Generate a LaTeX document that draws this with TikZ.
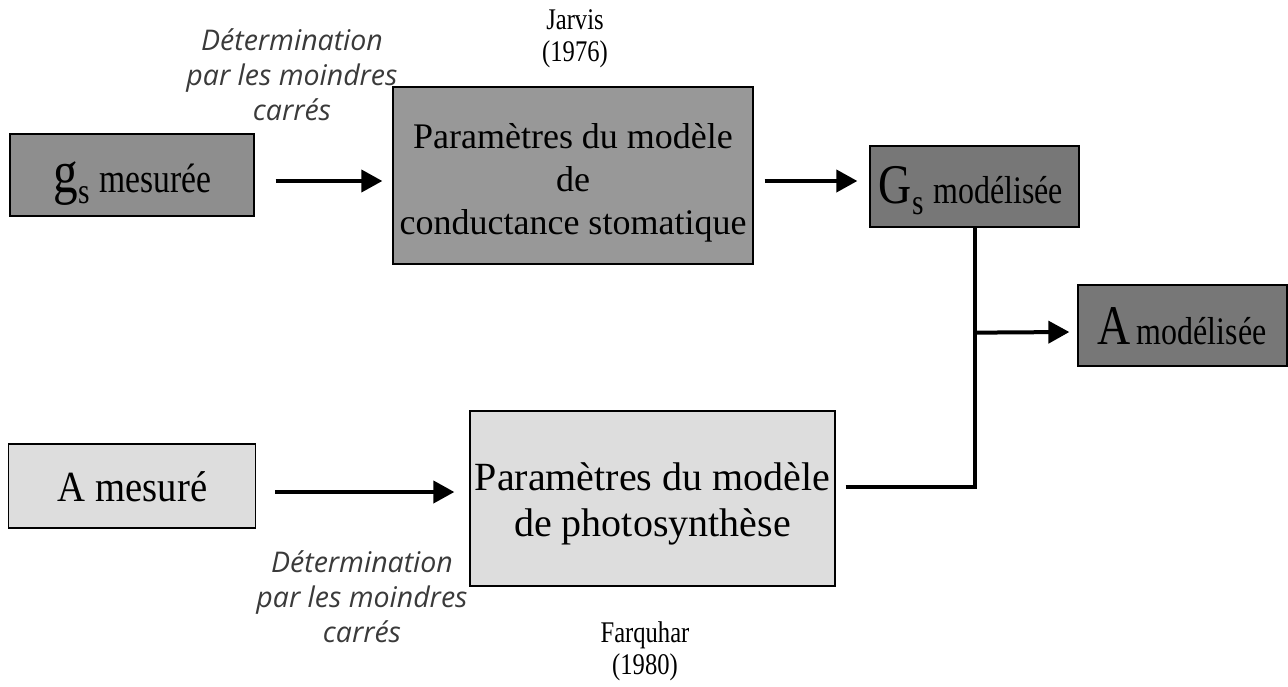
\documentclass[tikz,border=0pt]{standalone}
\usepackage{fontspec}
\setmainfont{Liberation Serif}
\newfontfamily\condfont{Liberation Serif}[FakeStretch=0.82]
\newfontfamily\semicondfont{Liberation Serif}[FakeStretch=0.9]
\newfontfamily\notefont{Open Sans}
\usetikzlibrary{arrows.meta}
\definecolor{midgrey}{HTML}{8E8E8E}
\definecolor{paramgrey}{HTML}{989898}
\definecolor{darkgrey}{HTML}{777777}
\definecolor{lightgrey}{HTML}{DDDDDD}
\definecolor{notegrey}{HTML}{3A3A3A}
\newcommand{\fsz}[2]{\fontsize{#1}{#2}\selectfont}
\tikzset{
  box/.style={draw=black, line width=1.3pt, inner sep=0pt},
  txt/.style={inner sep=0pt, align=center},
  baseline txt/.style={inner sep=0pt, anchor=base},
  conn/.style={line width=4pt, draw=black},
  arr/.style={conn, -{Triangle[length=21pt,width=22pt]}},
  note/.style={align=center, text=notegrey, font=\notefont\itshape\fsz{28.5}{35}},
  refnote/.style={align=center, font=\condfont\fsz{30}{32}}
}
\begin{document}
\begin{tikzpicture}[x=1pt,y=-1pt]
\useasboundingbox (0,0) rectangle (1288,686);

% boxes of the upper chain (stomatal conductance)
\node[box, fill=midgrey, minimum width=244pt, minimum height=82pt] (gsmes) at (132,175) {};
\node[baseline txt, font=\condfont] (gsmes-t) at (132.5,192)
  {{\fsz{60}{60}g}\raisebox{-11pt}{\fsz{36}{36}s}\hspace{10pt}{\fsz{41}{41}mesurée}};
\node[box, fill=paramgrey, minimum width=360pt, minimum height=177pt] (tpar) at (573,175.5) {};
\node[txt, font=\fsz{36}{43}] (tpar-t) at ([yshift=-7pt]tpar.center)
  {Paramètres du modèle\\de\\conductance stomatique};
\node[box, fill=darkgrey, minimum width=209pt, minimum height=81pt] (gsmod) at (974.5,186.5) {};
\node[baseline txt, font=\condfont] (gsmod-t) at (971,203)
  {{\fsz{56}{56}G}\raisebox{-11pt}{\fsz{36}{36}s}\hspace{10pt}{\fsz{39}{39}modélisée}};
\node[box, fill=darkgrey, minimum width=209pt, minimum height=81pt] (amod) at (1182.5,325.5) {};
\node[baseline txt, font=\condfont] (amod-t) at (1182,344)
  {{\fsz{56}{56}A}\hspace{6pt}{\fsz{39}{39}modélisée}};

% boxes of the lower chain (photosynthesis)
\node[box, fill=lightgrey, minimum width=247pt, minimum height=84pt] (ames) at (132,486) {};
\node[baseline txt, font=\semicondfont\fsz{43}{43}] (ames-t) at (132.5,501) {A mesuré};
\node[box, fill=lightgrey, minimum width=365pt, minimum height=175pt] (bpar) at (652.5,498.5) {};
\node[txt, font=\fsz{40}{46}] (bpar-t) at ([yshift=-5pt]bpar.center)
  {Paramètres du modèle\\de photosynthèse};

% annotations
\node[note] (det1) at (292,75) {Détermination\\par les moindres\\carrés};
\node[refnote] (jarvis) at (575,39) {Jarvis\\(1976)};
\node[note] (det2) at (362,597) {Détermination\\par les moindres\\carrés};
\node[refnote] (farq) at (645,651) {Farquhar\\(1980)};

% connectors
\draw[arr] ([shift={(21,6)}]gsmes.east) -- ([shift={(-10,6)}]gsmes.east -| tpar.west);
\draw[arr] ([shift={(11,5.5)}]tpar.east) -- ([shift={(-12,5.5)}]tpar.east -| gsmod.west);
\draw[arr] ([shift={(19,6)}]ames.east) -- ([shift={(-15,6)}]ames.east -| bpar.west);
\draw[conn] ([shift={(10,-11.5)}]bpar.east) -| (gsmod.south);
\path (gsmod.south) ++(0,105) coordinate (junc);
\draw[arr] (junc) -- ([shift={(-8,6.5)}]amod.west);
\end{tikzpicture}
\end{document}
